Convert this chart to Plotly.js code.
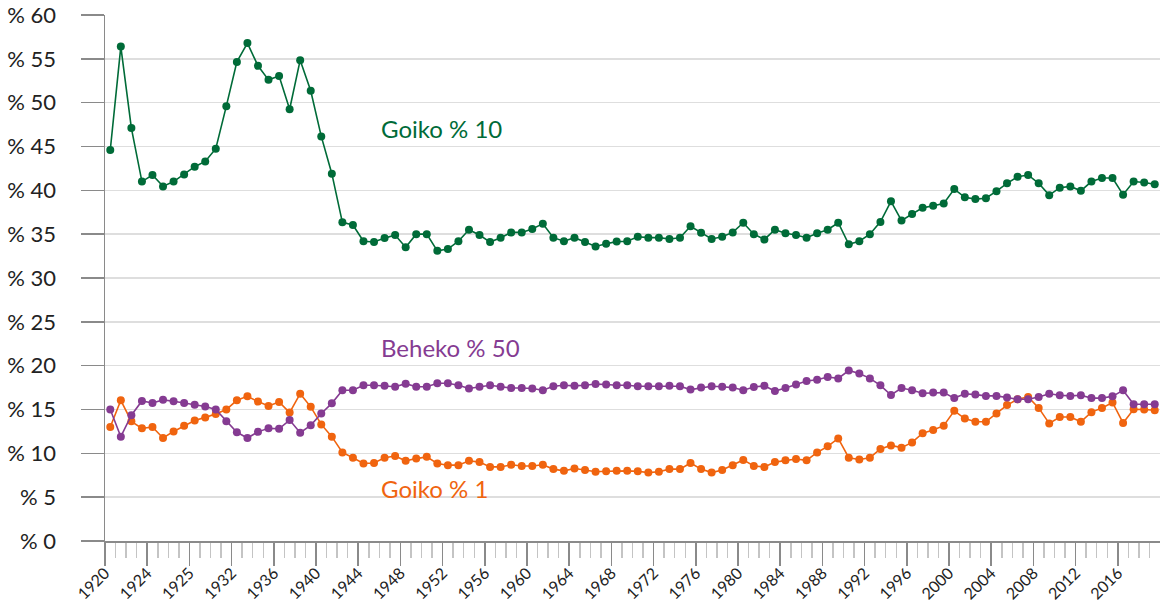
<!DOCTYPE html>
<html>
<head>
<meta charset="utf-8">
<script src="https://cdn.plot.ly/plotly-3.0.1.min.js"></script>
<style>html,body{margin:0;padding:0;background:#fff;}#chart{width:1161px;height:603px;}</style>
</head>
<body>
<div id="chart"></div>
<script>
const firstYear = 1920;
const lastYear = 2019;
const years = [];
for (let y = firstYear; y <= lastYear; y++) years.push(y);

const tickLabels = ["1920","1924","1925","1932","1936","1940","1944","1948","1952","1956","1960","1964","1968","1972","1976","1980","1984","1988","1992","1996","2000","2004","2008","2012","2016"];

const goiko10 = [44.6, 56.4, 47.1, 41.0, 41.75, 40.45, 41.0, 41.8, 42.7, 43.3, 44.75, 49.6, 54.65, 56.8, 54.2, 52.6, 53.05, 49.25, 54.85, 51.35, 46.15, 41.9,
  36.35, 36.05, 34.2, 34.1, 34.55, 34.9, 33.5, 35.0, 35.0, 33.1, 33.3, 34.2, 35.5, 34.9, 34.1, 34.6, 35.2, 35.2, 35.6, 36.2, 34.6, 34.2, 34.6, 34.1, 33.6, 33.9, 34.15, 34.2, 34.7, 34.6, 34.6, 34.45, 34.6, 35.9, 35.15, 34.45, 34.7, 35.2,
  36.3, 35.0, 34.4, 35.5, 35.1, 34.9, 34.6, 35.1, 35.5, 36.3, 33.85, 34.2, 35.0, 36.4, 38.75, 36.55, 37.3, 38.0, 38.25, 38.5, 40.15,
  39.2, 39.0, 39.1, 39.9, 40.8, 41.55, 41.75, 40.8, 39.45, 40.3, 40.45, 39.95, 41.0, 41.4, 41.4, 39.5, 41.0, 40.9, 40.7];

const beheko50 = [15.0, 11.9, 14.35, 15.97, 15.75, 16.1, 15.95, 15.75, 15.55, 15.35, 15.0, 13.65, 12.4, 11.75, 12.45, 12.85, 12.8, 13.8, 12.35, 13.2, 14.55, 15.7,
  17.2, 17.2, 17.76, 17.76, 17.7, 17.6, 17.95, 17.6, 17.6, 18.0, 18.0, 17.76, 17.4, 17.6, 17.76, 17.6, 17.45, 17.45, 17.4, 17.2, 17.65, 17.76, 17.7, 17.76, 17.9, 17.85, 17.76, 17.76, 17.65, 17.65, 17.65, 17.7, 17.65, 17.27, 17.5, 17.65, 17.6, 17.5,
  17.2, 17.57, 17.7, 17.1, 17.45, 17.85, 18.25, 18.4, 18.7, 18.55, 19.45, 19.1, 18.55, 17.76, 16.65, 17.45, 17.2, 16.85, 16.93, 16.93, 16.3,
  16.8, 16.7, 16.55, 16.55, 16.36, 16.17, 16.17, 16.43, 16.8, 16.62, 16.55, 16.62, 16.3, 16.3, 16.5, 17.2, 15.6, 15.6, 15.6];

const goiko1 = [13.0, 16.05, 13.65, 12.85, 13.0, 11.75, 12.5, 13.15, 13.75, 14.1, 14.5, 15.0, 16.05, 16.5, 15.9, 15.4, 15.85, 14.65, 16.8, 15.3, 13.3, 11.9,
  10.1, 9.5, 8.85, 8.9, 9.5, 9.7, 9.15, 9.4, 9.6, 8.85, 8.65, 8.65, 9.15, 9.0, 8.45, 8.45, 8.7, 8.55, 8.55, 8.7, 8.2, 8.0, 8.27, 8.1, 7.9, 7.95, 8.0, 8.0, 7.95, 7.8, 7.9, 8.2, 8.2, 8.9, 8.2, 7.8, 8.1, 8.65,
  9.25, 8.55, 8.45, 9.0, 9.2, 9.35, 9.2, 10.1, 10.8, 11.7, 9.5, 9.3, 9.5, 10.5, 10.9, 10.65, 11.25, 12.3, 12.65, 13.15, 14.85,
  13.97, 13.6, 13.6, 14.55, 15.5, 16.17, 16.43, 15.18, 13.4, 14.15, 14.15, 13.6, 14.7, 15.18, 15.8, 13.47, 15.03, 15.0, 14.92];

const seriesNames = ["Goiko % 10", "Beheko % 50", "Goiko % 1"];
const colors = { green: "#006b38", purple: "#853b92", orange: "#f0640f" };

// major ticks at boundaries (labelled year and the following year), minor at every boundary
const majorVals = [], majorText = [];
tickLabels.forEach((lab, m) => {
  const y = firstYear + 4 * m;
  majorVals.push(y - 0.5); majorText.push(lab);
  majorVals.push(y + 0.5); majorText.push("");
});
const minorVals = years.map(y => y - 0.5);

function mk(yv, name, color) {
  return {
    x: years, y: yv, name: name, type: "scatter", mode: "lines+markers",
    line: { color: color, width: 1.6 },
    marker: { color: color, size: 8 },
    hoverinfo: "x+y"
  };
}

const data = [
  mk(goiko10, seriesNames[0], colors.green),
  mk(goiko1, seriesNames[2], colors.orange),
  mk(beheko50, seriesNames[1], colors.purple)
];

const font = "Lato, 'Open Sans', sans-serif";

const layout = {
  width: 1161, height: 603,
  margin: { l: 105, r: 1, t: 15, b: 62, pad: 0 },
  paper_bgcolor: "#fff", plot_bgcolor: "#fff",
  showlegend: false,
  font: { family: font, color: "#222" },
  xaxis: {
    type: "linear",
    range: [firstYear - 0.5, lastYear + 0.5],
    tickmode: "array", tickvals: majorVals, ticktext: majorText,
    tickangle: -45,
    ticks: "outside", ticklen: 23, tickwidth: 1.5, tickcolor: "#8a8a8a",
    ticklabelstandoff: -8,
    tickfont: { family: font, size: 16, color: "#222" },
    showgrid: false, zeroline: false,
    showline: true, linecolor: "#8a8a8a", linewidth: 1.5,
    minor: { tickmode: "array", tickvals: minorVals, ticks: "outside", ticklen: 15, tickwidth: 1.5, tickcolor: "#c4c4c4", showgrid: false },
    fixedrange: true
  },
  yaxis: {
    range: [0, 60], dtick: 5, tick0: 0,
    tickprefix: "% ",
    ticks: "outside", ticklen: 23, tickwidth: 1.5, tickcolor: "#8a8a8a",
    ticklabelstandoff: 20,
    tickfont: { family: font, size: 22, color: "#222" },
    showgrid: true, gridcolor: "#dedede", gridwidth: 1.5,
    zeroline: false,
    showline: true, linecolor: "#8a8a8a", linewidth: 1.5,
    fixedrange: true
  },
  annotations: [
    { x: 1945.5, y: 47.0, xref: "x", yref: "y", text: seriesNames[0], showarrow: false, xanchor: "left", yanchor: "middle", font: { family: font, size: 24, color: colors.green } },
    { x: 1945.5, y: 22.1, xref: "x", yref: "y", text: seriesNames[1], showarrow: false, xanchor: "left", yanchor: "middle", font: { family: font, size: 24, color: colors.purple } },
    { x: 1945.5, y: 6.0, xref: "x", yref: "y", text: seriesNames[2], showarrow: false, xanchor: "left", yanchor: "middle", font: { family: font, size: 24, color: colors.orange } }
  ]
};

Plotly.newPlot("chart", data, layout, { displayModeBar: false, staticPlot: true });
</script>
</body>
</html>
